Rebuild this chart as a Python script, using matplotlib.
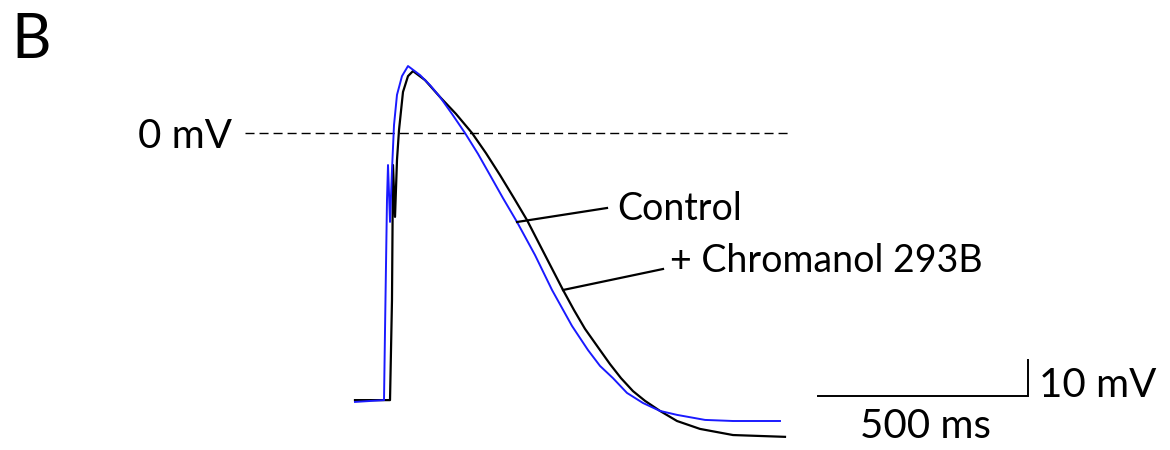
import matplotlib
matplotlib.use("Agg")
import matplotlib.pyplot as plt

# === Traces (ms, mV) ===
# blue trace (pointed to by the "Control" label)
blue_t = [-78.6, -9.5, -7.1, -2.4, 0, 4.8, 9.5, 14.3, 21.4, 33.3, 47.6, 76.2, 100,
          123.8, 152.4, 183.3, 214.3, 242.9, 273.8, 307.1, 350, 390.5, 414.3, 438.1,
          476.2, 504.8, 535.7, 569, 607.1, 647.6, 688.1, 754.8, 821.4, 933.3]
blue_v = [-74.7, -74.2, -54.7, -18.6, -8.9, -24.7, -10.3, 2.2, 10.6, 15.8, 18.6, 16.1,
          13.3, 10.0, 5.3, 0.0, -5.8, -11.7, -18.1, -24.7, -33.9, -43.6, -48.6, -53.6,
          -60.3, -64.7, -68.1, -72.2, -75.0, -77.2, -78.3, -79.7, -80.0, -80.0]

# black trace (pointed to by the "+ Chromanol 293B" label)
black_t = [-78.6, 4.8, 9.5, 11.9, 16.7, 21.4, 26.2, 35.7, 47.6, 59.5, 88.1, 123.8,
           161.9, 200, 233.3, 266.7, 300, 331, 373.8, 416.7, 442.9, 469, 504.8, 528.6,
           554.8, 583.3, 611.9, 647.6, 688.1, 742.9, 821.4, 945.2]
black_v = [-74.2, -74.2, -46.4, -8.9, -23.3, -7.5, 0.8, 11.4, 15.8, 17.2, 14.7, 10.0,
           5.3, 0.0, -5.6, -11.7, -18.1, -24.2, -33.9, -43.6, -49.2, -54.4, -60.3,
           -64.2, -68.1, -71.7, -74.4, -77.2, -80.0, -82.2, -83.9, -84.4]

label_control = "Control"
label_drug = "+ Chromanol 293B"
scale_ms = 500
scale_mv = 10

# pixel <-> data mapping of the 1170x450 canvas
PX_PER_MS = 0.42
PX_PER_MV = 3.6
X0_PX = 388
Y0_PX = 133


def px(x, y):
    """Convertit une position pixel en coordonnées (ms, mV)."""
    return (x - X0_PX) / PX_PER_MS, (Y0_PX - y) / PX_PER_MV


plt.rcParams["font.family"] = ["Lato", "DejaVu Sans"]

fig = plt.figure(figsize=(11.7, 4.5), dpi=100)
ax = fig.add_axes([0, 0, 1, 1])
xmin, ymax = px(0, 0)
xmax, ymin = px(1170, 450)
ax.set_xlim(xmin, xmax)
ax.set_ylim(ymin, ymax)
ax.axis("off")

# --- 0 mV reference line ---
x_a, _ = px(245, 0)
x_b, _ = px(788, 0)
ax.plot([x_a, x_b], [0, 0], color="black", lw=1.0, ls=(0, (6.5, 3.6)))

# --- traces ---
ax.plot(black_t, black_v, color="black", lw=1.6, solid_joinstyle="round")
ax.plot(blue_t, blue_v, color="#1a1aff", lw=1.4, solid_joinstyle="round")

# --- label lines ---
p1, p2 = px(607, 208), px(517, 222)
ax.plot([p1[0], p2[0]], [p1[1], p2[1]], color="black", lw=1.6)
p1, p2 = px(663, 269), px(563, 290)
ax.plot([p1[0], p2[0]], [p1[1], p2[1]], color="black", lw=1.6)

# --- texts ---
fs = 27
fs_big = 29
x, y = px(617, 220)
ax.text(x, y, label_control, fontsize=fs, va="baseline", ha="left")
x, y = px(670, 272)
ax.text(x, y, label_drug, fontsize=fs, va="baseline", ha="left")
x, y = px(232, 148)
ax.text(x, y, "0 mV", fontsize=fs_big, va="baseline", ha="right")
x, y = px(11, 58)
ax.text(x, y, "B", fontsize=44, va="baseline", ha="left")

# --- scale bar ---
bx0, by0 = px(818, 396)
bx1 = bx0 + scale_ms
ax.plot([bx0, bx1, bx1], [by0, by0, by0 + scale_mv], color="black", lw=1.4,
        solid_joinstyle="miter")
x, y = px(1039, 397)
ax.text(x, y, f"{scale_mv} mV", fontsize=fs_big, va="baseline", ha="left")
x, y = px(860, 438)
ax.text(x, y, f"{scale_ms} ms", fontsize=fs_big, va="baseline", ha="left")

fig.savefig("out.png", dpi=100)
